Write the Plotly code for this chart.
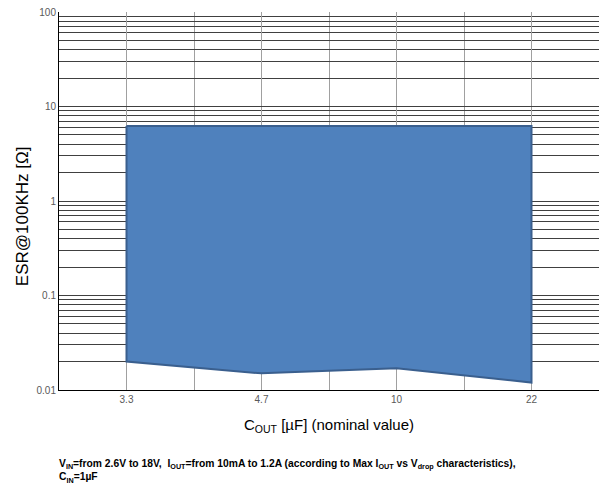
import plotly.graph_objects as go

# ---- data ----
caps = ["3.3", "4.7", "10", "22"]          # C_OUT nominal values (µF)
esr_max = [6.2, 6.2, 6.2, 6.2]             # upper ESR limit (Ω)
esr_min = [0.020, 0.015, 0.017, 0.012]     # lower ESR limit (Ω)
y_major = [0.01, 0.1, 1, 10, 100]
y_major_labels = ["0.01", "0.1", "1", "10", "100"]

idx = list(range(len(caps)))

# polygon: upper edge left->right, lower edge right->left
poly_x = idx + idx[::-1]
poly_y = esr_max + esr_min[::-1]

fig = go.Figure()
fig.add_trace(go.Scatter(
    x=poly_x + [poly_x[0]], y=poly_y + [poly_y[0]],
    mode="lines", fill="toself",
    fillcolor="#4F81BD",
    line=dict(color="#3A5F8E", width=2),
    hoverinfo="skip", showlegend=False,
))

# minor gridline values for log axis: digits 2..9 in each decade
y_minor = [y_major[d] * k for d in range(len(y_major) - 1) for k in range(2, 10)]
# minor x gridlines between categories
x_minor = [i + 0.5 for i in idx]

fig.update_layout(
    width=599, height=498,
    margin=dict(l=59, r=0, t=12, b=108),
    paper_bgcolor="white", plot_bgcolor="white",
    font=dict(family="Liberation Sans, Arial, sans-serif", color="black"),
    xaxis=dict(
        range=[-0.5, 3.5], tickmode="array", tickvals=idx, ticktext=caps,
        showgrid=True, gridcolor="#A0A0A0", gridwidth=1,
        minor=dict(tickmode="array", tickvals=x_minor, showgrid=True,
                   gridcolor="#A0A0A0", gridwidth=1, ticks=""),
        zeroline=False, showline=True, linecolor="black", linewidth=1,
        ticks="", tickfont=dict(size=10, color="#595959"),
    ),
    yaxis=dict(
        type="log", range=[-2, 2], tickmode="array",
        tickvals=y_major, ticktext=y_major_labels,
        showgrid=True, gridcolor="#404040", gridwidth=1,
        minor=dict(tickmode="array", tickvals=y_minor, showgrid=True,
                   gridcolor="#404040", gridwidth=1, ticks=""),
        zeroline=False, showline=True, linecolor="black", linewidth=1,
        ticks="", tickfont=dict(size=10, color="#595959"),
    ),
    annotations=[
        dict(text="ESR@100KHz [Ω]", xref="paper", yref="paper",
             x=-0.0685, y=0.46, xanchor="center", yanchor="middle",
             textangle=-90, showarrow=False,
             font=dict(size=17, color="black")),
        dict(text="C<sub>OUT</sub> [µF] (nominal value)", xref="paper", yref="paper",
             x=0.5, y=-0.124, xanchor="center", showarrow=False,
             font=dict(size=15, color="black")),
        dict(text="<b>V<sub>IN</sub>=from 2.6V to 18V,  I<sub>OUT</sub>=from 10mA to 1.2A "
                  "(according to Max I<sub>OUT</sub> vs V<sub>drop</sub> characteristics),"
                  "<br>C<sub>IN</sub>=1µF</b>",
             xref="paper", yref="paper", x=-0.004, y=-0.175,
             xanchor="left", yanchor="top", align="left", showarrow=False,
             font=dict(size=10.3, color="black", family="Liberation Sans, Arial")),
    ],
)

fig.write_html("out.html", config={"displayModeBar": False},
               post_script="document.body.style.margin='0';")
